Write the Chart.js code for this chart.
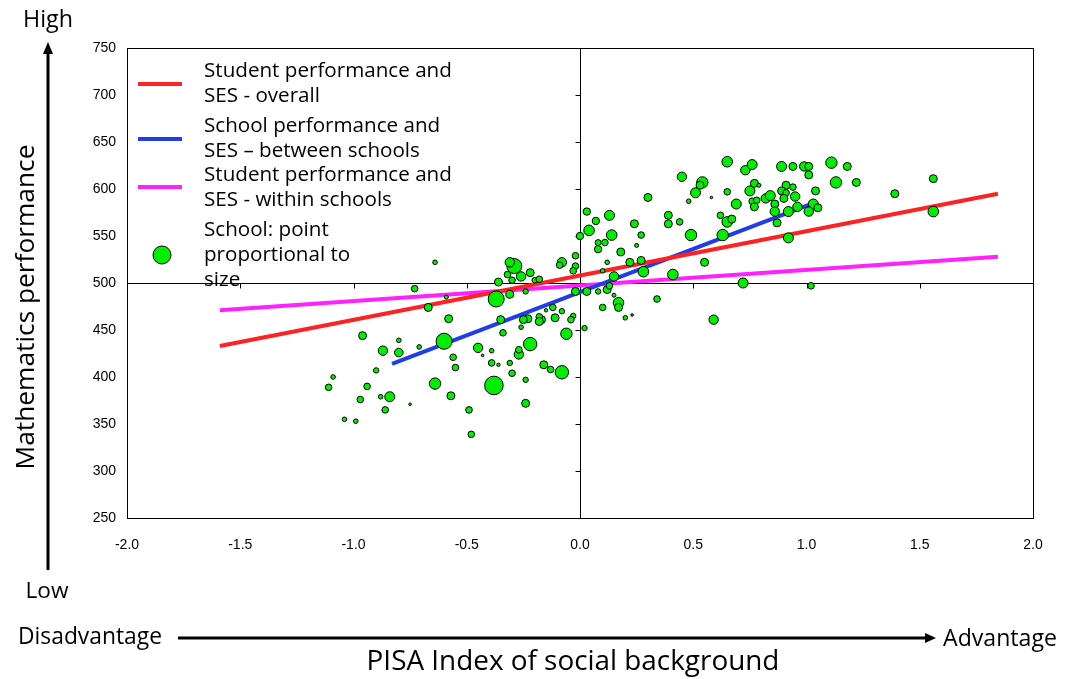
<!DOCTYPE html>
<html>
<head>
<meta charset="utf-8">
<script src="https://cdn.jsdelivr.net/npm/chart.js@4.4.1/dist/chart.umd.min.js"></script>
<style>
  html, body { margin: 0; padding: 0; background: #fff; overflow: hidden; }
  #wrap { position: relative; width: 1065px; height: 679px; }
</style>
</head>
<body>
<div id="wrap"><canvas id="c" width="1065" height="679"></canvas></div>
<script>
// Schools: socio-economic index, mean mathematics score, school size (bubble radius)
const schoolSES = [
  -0.64,-0.73,-0.59,-0.67,-0.58,-0.96,-0.80,-0.87,-0.80,-0.71,-0.60,-0.56,-0.55,-0.90,-1.09,-1.11,-0.94,-0.97,-0.88,-0.84,
  -0.86,-0.75,-0.64,-0.57,-1.04,-0.99,-0.49,-0.48,-0.38,-0.45,-0.39,-0.43,-0.39,-0.36,-0.31,-0.30,-0.24,-0.24,-0.27,-0.27,
  -0.22,-0.16,-0.13,-0.08,-0.06,0.02,-0.03,-0.04,-0.11,-0.12,-0.08,-0.17,-0.18,-0.15,-0.18,-0.23,-0.25,-0.26,-0.34,-0.35,
  -0.37,-0.31,-0.24,-0.36,-0.29,-0.31,-0.32,-0.30,-0.26,-0.22,-0.20,-0.18,-0.08,-0.09,-0.02,-0.02,-0.03,0.03,-0.02,
  0.30,0.03,0.13,0.07,0.24,0.04,0.00,0.14,0.27,0.08,0.11,0.08,0.25,0.18,0.12,0.22,0.27,0.28,0.41,0.10,
  0.15,0.12,0.13,0.08,0.15,0.17,0.17,0.10,0.20,0.23,0.34,
  0.65,0.45,0.73,0.76,0.54,0.53,0.51,0.48,0.58,0.65,0.69,0.75,0.77,0.79,0.76,0.78,0.77,0.82,0.84,0.89,
  0.94,0.99,1.01,1.01,1.11,1.18,1.13,1.22,1.04,0.91,0.94,0.89,0.91,0.95,0.90,0.86,0.96,0.92,0.86,1.03,
  1.05,1.01,0.87,0.62,0.39,0.39,0.44,0.65,0.67,0.63,0.49,0.55,0.92,0.72,1.02,0.59,1.39,1.56,1.56
];
const schoolMath = [
  522,494,485,474,462,444,439,428,426,432,438,421,410,407,400,389,390,376,379,379,
  365,371,393,380,355,353,365,339,391,431,428,423,415,413,415,404,397,372,424,429,
  435,413,408,405,446,452,465,461,463,474,470,461,464,471,459,462,461,453,447,461,
  483,488,491,501,518,522,509,503,507,511,503,504,522,519,529,518,513,491,491,
  591,576,572,566,563,556,550,551,551,543,543,536,540,533,522,522,524,512,509,513,
  507,493,497,491,487,479,474,474,463,466,483,
  629,613,620,626,607,604,596,587,591,597,584,598,606,604,587,588,581,590,593,624,
  624,624,624,615,628,624,607,607,598,604,602,598,596,592,590,584,581,576,576,584,
  580,576,564,572,572,563,565,565,568,551,551,522,548,500,497,461,595,611,576
];
const schoolSize = [
  2.3,3.3,2,4,4,4,2.3,4.7,4.3,2.3,8,3.3,3.3,2.7,2.3,3.3,3.3,3.3,2.3,5,
  3.3,1.3,5.7,4,2.3,2.3,3.3,3.3,9.3,4.7,2.3,1.3,3.3,1.7,2.7,3.3,2.7,4,4.7,3.3,
  6.7,4,3.3,6.7,5.7,2.7,2.7,3.3,4,3.3,2.7,4,3.3,1.7,4,4,4,2.3,3.3,4,
  8,4,2.7,4,7.5,4.7,3.3,3.3,4.7,4,2.7,3.3,4.7,3.3,3.3,3.3,3.3,4,4,
  4,3.7,5,3.7,4,5.3,3.7,5.3,3.3,3,3.3,3.7,2,4,2.3,4,4,5.3,5.3,2.3,
  4.7,4,3.3,2.7,2,5.3,4,3.3,2.3,1.3,3.3,
  5.3,4.7,4.7,5,5.7,4,5,2.3,1.3,3.3,5,5,4,2,3.3,3.3,4,4.7,5,5,
  4,4.7,4,4,5.7,4,5.7,4,4,4,3.3,4,3.3,4.7,4,4,4.7,5,4.7,5,
  4,4.7,4,3.3,4,4,3.3,5.3,4,5.7,5.7,4,5,5,3.3,4.7,4,4,5.3
];

// Regression lines (end points on the social-background index)
const overallSES = [-1.59, 1.845];
const overallMath = [433, 595];
const betweenSES = [-0.83, 1.01];
const betweenMath = [414, 583];
const withinSES = [-1.59, 1.845];
const withinMath = [471, 528];

// Axis ticks
const xTickValues = [-2.0, -1.5, -1.0, -0.5, 0.0, 0.5, 1.0, 1.5, 2.0];
const yTickValues = [250, 300, 350, 400, 450, 500, 550, 600, 650, 700, 750];

// Legend text, one entry per series
const legendOverall = ['Student performance and', 'SES - overall'];
const legendBetween = ['School performance and', 'SES \u2013 between schools'];
const legendWithin = ['Student performance and', 'SES - within schools'];
const legendSchools = ['School: point', 'proportional to', 'size'];

const HAND_FONT = "'Open Sans', 'DejaVu Sans', sans-serif";
const TICK_FONT = "'Liberation Sans', Arial, sans-serif";

const RED = '#ff2222';
const BLUE = '#1f3ee6';
const MAGENTA = '#ff22ff';
const GREEN = '#00ee00';

function pairs(xs, ys) { return xs.map((x, i) => ({ x: x, y: ys[i] })); }

function fitSize(ctx, text, width, family) {
  ctx.font = '100px ' + family;
  return 100 * width / ctx.measureText(text).width;
}

const bubbles = schoolSES.map((x, i) => ({ x: x, y: schoolMath[i], r: schoolSize[i] }));

// Cross-hair through (0, 500) with small tick marks, plus the plot frame
const crossPlugin = {
  id: 'cross',
  beforeDatasetsDraw(chart) {
    const { ctx, chartArea: a, scales: { x, y } } = chart;
    const x0 = Math.round(x.getPixelForValue(0)) + 0.5;
    const y0 = Math.round(y.getPixelForValue(500)) + 0.5;
    ctx.save();
    ctx.strokeStyle = '#000';
    ctx.lineWidth = 1;
    ctx.beginPath();
    ctx.moveTo(a.left, y0); ctx.lineTo(a.right, y0);
    ctx.moveTo(x0, a.top); ctx.lineTo(x0, a.bottom);
    xTickValues.forEach(v => {
      const px = Math.round(x.getPixelForValue(v)) + 0.5;
      ctx.moveTo(px, y0); ctx.lineTo(px, y0 + 5);
    });
    yTickValues.forEach(v => {
      const py = Math.round(y.getPixelForValue(v)) + 0.5;
      ctx.moveTo(x0 - 5, py); ctx.lineTo(x0, py);
    });
    ctx.stroke();
    ctx.restore();
  },
  afterDatasetsDraw(chart) {
    const { ctx, chartArea: a } = chart;
    ctx.save();
    ctx.strokeStyle = '#000';
    ctx.lineWidth = 1;
    ctx.strokeRect(Math.round(a.left) + 0.5, Math.round(a.top) + 0.5,
                   Math.round(a.right - a.left), Math.round(a.bottom - a.top));
    ctx.restore();
  }
};

// Legend drawn inside the plot, upper-left corner
const legendPlugin = {
  id: 'innerLegend',
  afterDatasetsDraw(chart) {
    const ctx = chart.ctx;
    const ds = chart.data.datasets;
    const size = fitSize(ctx, legendOverall[0], 248, HAND_FONT);
    const entries = [
      { lines: ds[1].legendLines, color: ds[1].borderColor, kind: 'line', y: 84, rows: [71, 96] },
      { lines: ds[2].legendLines, color: ds[2].borderColor, kind: 'line', y: 139, rows: [126, 151] },
      { lines: ds[3].legendLines, color: ds[3].borderColor, kind: 'line', y: 187, rows: [175, 200] },
      { lines: ds[0].legendLines, color: ds[0].backgroundColor, kind: 'point', y: 255, rows: [230, 255, 280] }
    ];
    ctx.save();
    ctx.font = size + 'px ' + HAND_FONT;
    ctx.textBaseline = 'middle';
    ctx.textAlign = 'left';
    entries.forEach(e => {
      if (e.kind === 'line') {
        ctx.strokeStyle = e.color;
        ctx.lineWidth = 4;
        ctx.beginPath();
        ctx.moveTo(138, e.y); ctx.lineTo(182, e.y);
        ctx.stroke();
      } else {
        ctx.fillStyle = e.color;
        ctx.strokeStyle = '#000';
        ctx.lineWidth = 1;
        ctx.beginPath();
        ctx.arc(162, e.y, 9, 0, Math.PI * 2);
        ctx.fill(); ctx.stroke();
      }
      ctx.fillStyle = '#000';
      e.lines.forEach((t, i) => ctx.fillText(t, 204, e.rows[i]));
    });
    ctx.restore();
  }
};

// Outer annotations: direction arrows and axis captions
const captionPlugin = {
  id: 'captions',
  afterDraw(chart) {
    const ctx = chart.ctx;
    ctx.save();
    ctx.fillStyle = '#000';
    ctx.strokeStyle = '#000';
    ctx.textBaseline = 'middle';

    // vertical arrow
    ctx.lineWidth = 3;
    ctx.beginPath(); ctx.moveTo(48, 570); ctx.lineTo(48, 52); ctx.stroke();
    ctx.beginPath(); ctx.moveTo(48, 42); ctx.lineTo(43, 54); ctx.lineTo(53, 54); ctx.closePath(); ctx.fill();

    // horizontal arrow
    ctx.beginPath(); ctx.moveTo(178, 638); ctx.lineTo(926, 638); ctx.stroke();
    ctx.beginPath(); ctx.moveTo(936, 638); ctx.lineTo(925, 633); ctx.lineTo(925, 643); ctx.closePath(); ctx.fill();

    function caption(text, cx, cy, width) {
      const s = fitSize(ctx, text, width, HAND_FONT);
      ctx.font = s + 'px ' + HAND_FONT;
      ctx.textAlign = 'center';
      ctx.fillText(text, cx, cy);
    }
    caption('High', 48, 20, 50);
    caption('Low', 47, 592, 43);
    caption('Disadvantage', 90, 637, 144);
    caption('Advantage', 1000, 639, 114);
    caption('PISA Index of social background', 573, 662, 413);

    ctx.translate(27, 307);
    ctx.rotate(-Math.PI / 2);
    caption('Mathematics performance', 0, 0, 325);
    ctx.restore();
  }
};

new Chart(document.getElementById('c'), {
  type: 'bubble',
  data: {
    datasets: [
      {
        label: legendSchools.join(' '),
        legendLines: legendSchools,
        data: bubbles,
        backgroundColor: GREEN,
        borderColor: '#000',
        borderWidth: 1,
        order: 0
      },
      {
        type: 'line',
        label: legendOverall.join(' '),
        legendLines: legendOverall,
        data: pairs(overallSES, overallMath),
        borderColor: RED,
        borderWidth: 4,
        pointRadius: 0,
        fill: false,
        order: 1
      },
      {
        type: 'line',
        label: legendBetween.join(' '),
        legendLines: legendBetween,
        data: pairs(betweenSES, betweenMath),
        borderColor: BLUE,
        borderWidth: 4,
        pointRadius: 0,
        fill: false,
        order: 1
      },
      {
        type: 'line',
        label: legendWithin.join(' '),
        legendLines: legendWithin,
        data: pairs(withinSES, withinMath),
        borderColor: MAGENTA,
        borderWidth: 4,
        pointRadius: 0,
        fill: false,
        order: 1
      }
    ]
  },
  options: {
    responsive: false,
    devicePixelRatio: 1,
    animation: false,
    events: [],
    layout: { padding: { left: 60, top: 48, right: 32, bottom: 130 } },
    plugins: {
      legend: { display: false },
      tooltip: { enabled: false }
    },
    scales: {
      x: {
        type: 'linear',
        min: -2, max: 2,
        afterBuildTicks: s => { s.ticks = xTickValues.map(v => ({ value: v })); },
        afterFit: s => { s.height = 31; },
        grid: { display: false, drawTicks: false },
        border: { display: false },
        ticks: {
          padding: 19,
          color: '#000',
          font: { family: TICK_FONT, size: 14 },
          maxRotation: 0,
          callback: v => Number(v).toFixed(1)
        }
      },
      y: {
        type: 'linear',
        min: 250, max: 750,
        afterBuildTicks: s => { s.ticks = yTickValues.map(v => ({ value: v })); },
        afterFit: s => { s.width = 67; },
        grid: { display: false, drawTicks: false },
        border: { display: false },
        ticks: {
          padding: 11,
          color: '#000',
          font: { family: TICK_FONT, size: 14 },
          callback: v => String(v)
        }
      }
    }
  },
  plugins: [crossPlugin, legendPlugin, captionPlugin]
});
</script>
</body>
</html>
